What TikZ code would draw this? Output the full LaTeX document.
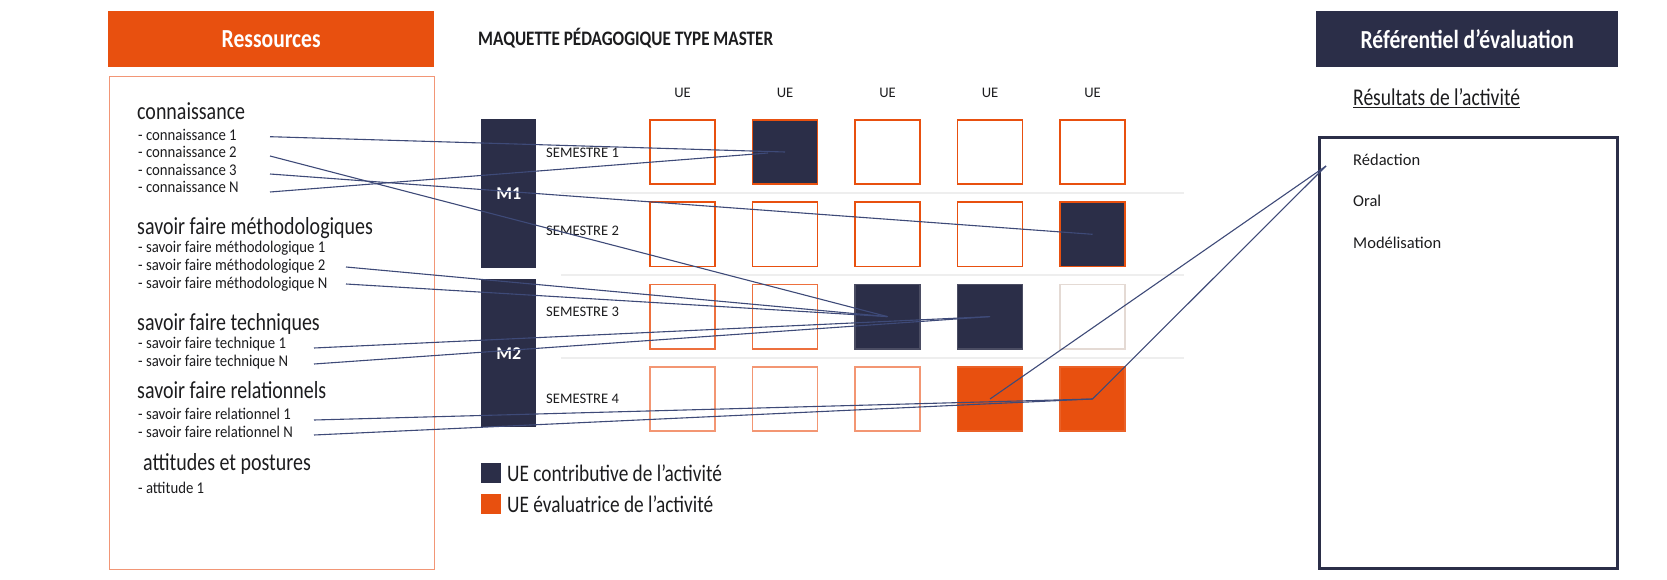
\documentclass[tikz,border=0pt]{standalone}
\usepackage{fontspec}
\usetikzlibrary{calc}
\setmainfont{Carlito}
\newfontfamily\cond[FakeStretch=0.815]{Carlito}
\newfontfamily\condb[FakeStretch=0.83]{Carlito}
\newfontfamily\itemf[FakeStretch=0.9]{Carlito}
\definecolor{orng}{RGB}{232,80,15}
\definecolor{navy}{RGB}{43,46,72}
\definecolor{connc}{RGB}{62,74,120}
\definecolor{panelc}{RGB}{242,150,118}
\definecolor{medorng}{RGB}{237,112,62}
\definecolor{salmon}{RGB}{243,150,115}
\definecolor{greyb}{RGB}{228,218,212}
\definecolor{sepc}{RGB}{238,238,238}
\definecolor{inkc}{RGB}{28,28,30}
\begin{document}
\begin{tikzpicture}[x=1pt,y=-1pt,
  txt/.style={inner sep=0pt, anchor=base west, text=inkc},
  itemtxt/.style={txt, font=\itemf\fontsize{16.4}{18}\selectfont, yshift=-4.1pt},
  headtxt/.style={txt, font=\cond\fontsize{24.5}{26}\selectfont, yshift=-7.6pt},
  smalltxt/.style={txt, font=\fontsize{14.6}{16}\selectfont, yshift=-4.7pt},
  restxt/.style={txt, font=\fontsize{16.5}{18}\selectfont, yshift=-5pt},
  legtxt/.style={txt, font=\cond\fontsize{23.7}{26}\selectfont, yshift=-6.4pt},
  cellbase/.style={minimum width=65pt, minimum height=64.5pt, inner sep=0pt, line width=1.6pt},
  cellO/.style={cellbase, draw=orng, fill=white},
  cellM/.style={cellbase, draw=medorng, fill=white},
  cellS/.style={cellbase, draw=salmon, fill=white},
  cellG/.style={cellbase, draw=greyb, fill=white},
  cellD/.style={cellbase, draw=orng, fill=navy},
  cellN/.style={cellbase, draw=navy!85!white, fill=navy},
  cellF/.style={cellbase, draw=orng!90!white, fill=orng},
  conn/.style={draw=connc, line width=1.1pt},
  sepline/.style={draw=sepc, line width=2pt},
  bar/.style={fill=navy, minimum width=55pt, inner sep=0pt, anchor=north west,
    font=\bfseries\fontsize{18}{19}\selectfont, text=white},
  legsq/.style={minimum width=20pt, minimum height=20pt, inner sep=0pt, anchor=north west},
  titlebox/.style={minimum height=56pt, inner sep=0pt, anchor=north west,
    font=\condb\bfseries\fontsize{26}{28}\selectfont, text=white},
]
\useasboundingbox (0,0) rectangle (1667,580);

% ---------- left column ----------
\node[titlebox, fill=orng, minimum width=326pt] (resh) at (108,11) {Ressources};
\node[draw=panelc, line width=1.3pt, minimum width=325pt, minimum height=493pt, inner sep=0pt,
  anchor=north west] (panel) at (108.5,76) {};

\node[headtxt] (hk) at (137,112) {connaissance};
\node[itemtxt] (ik1) at (138,136) {- connaissance 1};
\node[itemtxt] (ik2) at (138,153) {- connaissance 2};
\node[itemtxt] (ik3) at (138,171) {- connaissance 3};
\node[itemtxt] (ikN) at (138,188) {- connaissance N};

\node[headtxt] (hm) at (137,227) {savoir faire méthodologiques};
\node[itemtxt] (im1) at (138,248) {- savoir faire méthodologique 1};
\node[itemtxt] (im2) at (138,266) {- savoir faire méthodologique 2};
\node[itemtxt] (imN) at (138,284) {- savoir faire méthodologique N};

\node[headtxt] (ht) at (137,323) {savoir faire techniques};
\node[itemtxt] (it1) at (138,344) {- savoir faire technique 1};
\node[itemtxt] (itN) at (138,362) {- savoir faire technique N};

\node[headtxt] (hr) at (137,391) {savoir faire relationnels};
\node[itemtxt] (ir1) at (138,415) {- savoir faire relationnel 1};
\node[itemtxt] (irN) at (138,433) {- savoir faire relationnel N};

\node[headtxt] (ha) at (143,463) {attitudes et postures};
\node[itemtxt] (ia1) at (138,489) {- attitude 1};

% ---------- middle ----------
\node[txt, font=\condb\bfseries\fontsize{20.6}{22}\selectfont, yshift=-6.6pt] (title) at (478,39) {MAQUETTE PÉDAGOGIQUE TYPE MASTER};

\foreach \i/\x in {1/682.5,2/785,3/887.5,4/990,5/1092.5}
  \node[smalltxt, anchor=base] (ue\i) at (\x,93) {UE};

\draw[sepline] (561,193) -- (1184,193);
\draw[sepline] (561,275) -- (1184,275);
\draw[sepline] (561,358) -- (1184,358);

\node[bar, minimum height=149pt] (M1) at (481,119) {M1};
\node[bar, minimum height=148pt] (M2) at (481,279) {M2};

\node[smalltxt] (s1) at (546,153) {SEMESTRE 1};
\node[smalltxt] (s2) at (546,231) {SEMESTRE 2};
\node[smalltxt] (s3) at (546,312) {SEMESTRE 3};
\node[smalltxt] (s4) at (546,399) {SEMESTRE 4};

% row 1
\node[cellO] (c11) at (682.5,152) {};
\node[cellD] (c12) at (785,152) {};
\node[cellO] (c13) at (887.5,152) {};
\node[cellO] (c14) at (990,152) {};
\node[cellO] (c15) at (1092.5,152) {};
% row 2
\node[cellO] (c21) at (682.5,234.3) {};
\node[cellO] (c22) at (785,234.3) {};
\node[cellO] (c23) at (887.5,234.3) {};
\node[cellO] (c24) at (990,234.3) {};
\node[cellD] (c25) at (1092.5,234.3) {};
% row 3
\node[cellM] (c31) at (682.5,316.6) {};
\node[cellM] (c32) at (785,316.6) {};
\node[cellN] (c33) at (887.5,316.6) {};
\node[cellN] (c34) at (990,316.6) {};
\node[cellG] (c35) at (1092.5,316.6) {};
% row 4
\node[cellS] (c41) at (682.5,399) {};
\node[cellS] (c42) at (785,399) {};
\node[cellS] (c43) at (887.5,399) {};
\node[cellF] (c44) at (990,399) {};
\node[cellF] (c45) at (1092.5,399) {};

% legend
\node[legsq, fill=navy] (lgd) at (481,463) {};
\node[legsq, fill=orng] (lgo) at (481,494) {};
\node[legtxt] (lgdt) at (507,475) {UE contributive de l’activité};
\node[legtxt] (lgot) at (507,506) {UE évaluatrice de l’activité};

% ---------- right column ----------
\node[titlebox, fill=navy, minimum width=302pt] (refh) at (1316,11) {Référentiel d’évaluation};
\node[txt, font=\cond\fontsize{24}{26}\selectfont, yshift=-7.2pt] (resu) at (1353,98) {\underline{Résultats de l’activité}};
\node[draw=navy, line width=3pt, minimum width=298pt, minimum height=430pt, inner sep=0pt,
  anchor=north west] (resbox) at (1317.5,136.5) {};
\node[restxt] (red) at (1353,161) {Rédaction};
\node[restxt] (oral) at (1353,202) {Oral};
\node[restxt] (mod) at (1353,243) {Modélisation};

% ---------- connectors ----------
\coordinate (k1) at (270,136.7);
\coordinate (k2) at (270,156);
\coordinate (k3) at (270,174);
\coordinate (kN) at (270,192);
\coordinate (m2) at (346,267);
\coordinate (mN) at (346,284);
\coordinate (t1) at (314,348);
\coordinate (tN) at (314,364);
\coordinate (r1) at (314,420);
\coordinate (rN) at (314,435);
\coordinate (redpt) at (1326,166);

\draw[conn] (k1) -- (c12.center);
\draw[conn] (kN) -- ($(c12.center)+(-17,1)$);
\draw[conn] (k3) -- (c25.center);
\draw[conn] (k2) -- (c33.center);
\draw[conn] (m2) -- (c33.center);
\draw[conn] (mN) -- (c33.center);
\draw[conn] (t1) -- (c34.center);
\draw[conn] (tN) -- (c34.center);
\draw[conn] (r1) -- (c45.center);
\draw[conn] (rN) -- (c45.center);
\draw[conn] (c44.center) -- (redpt);
\draw[conn] (c45.center) -- (redpt);
\end{tikzpicture}
\end{document}
